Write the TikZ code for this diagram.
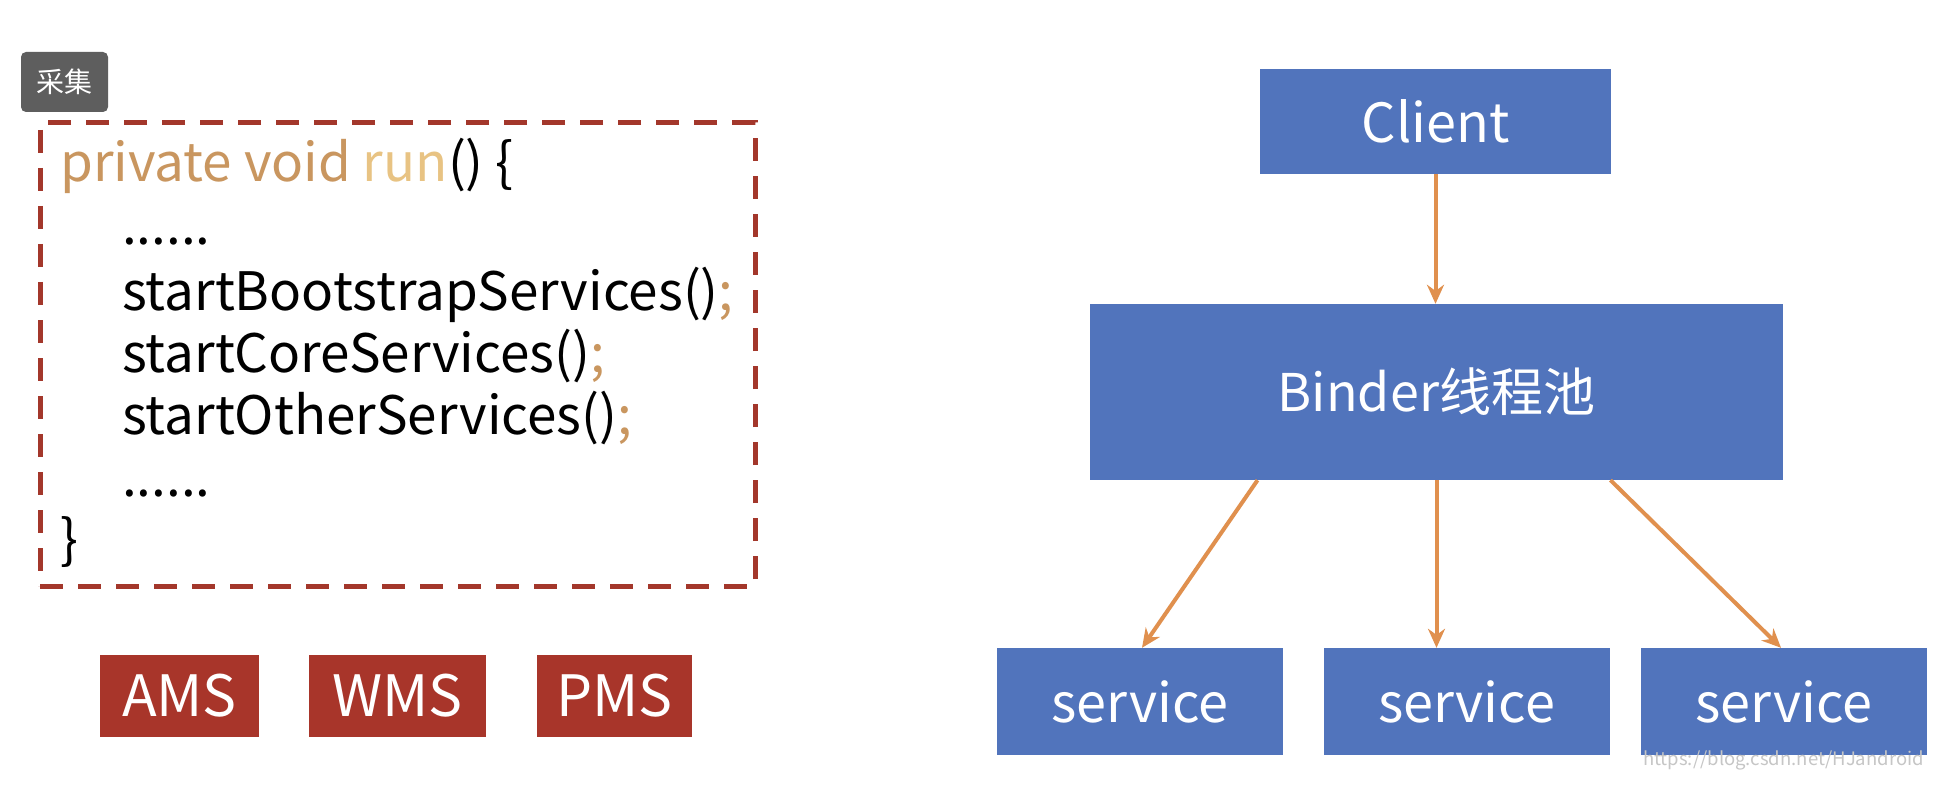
\documentclass[tikz,border=0pt]{standalone}
\usepackage{fontspec}
\setmainfont{Noto Sans CJK SC}
\usetikzlibrary{arrows.meta,positioning}
\definecolor{btngray}{HTML}{5E5E5E}
\definecolor{dashred}{HTML}{A3372B}
\definecolor{msred}{HTML}{A8352A}
\definecolor{kwtan}{HTML}{C9965F}
\definecolor{runtan}{HTML}{E8C383}
\definecolor{boxblue}{HTML}{5174BC}
\definecolor{arrorange}{HTML}{E0904E}
\tikzset{
  codeline/.style={anchor=base west,inner sep=0pt,font=\fontsize{53}{53}\selectfont},
  msbox/.style={fill=msred,text=white,minimum height=82pt,inner sep=0pt,font=\fontsize{57}{57}\selectfont},
  bluebox/.style={fill=boxblue,text=white,inner sep=0pt,font=\fontsize{54}{54}\selectfont},
  svcbox/.style={bluebox,minimum width=286pt,minimum height=107pt},
  callarrow/.style={-{Stealth[length=19pt,width=17pt]},line width=4pt,arrorange},
}
\begin{document}
\begin{tikzpicture}[x=1pt,y=-1pt]
  \useasboundingbox[fill=white] (0,0) rectangle (1946,786);
  % left: code snippet
  \node[fill=btngray,text=white,rounded corners=5pt,minimum width=87pt,minimum height=60pt,
        inner sep=0pt,font=\fontsize{28}{28}\selectfont] (btn) at (64.5,82) {采集};
  \node[draw=dashred,line width=5pt,dash pattern=on 23pt off 15pt,minimum width=715pt,
        minimum height=463pt,inner sep=0pt] (code) at (397.5,354.5) {};
  \node[codeline] (l1) at (60,182) {\textcolor{kwtan}{private void }\textcolor{runtan}{run}() \{};
  \node[codeline] (l2) at (122,245) {......};
  \node[codeline] (l3) at (122,310) {startBootstrapServices()\textcolor{kwtan}{;}};
  \node[codeline] (l4) at (122,372) {startCoreServices()\textcolor{kwtan}{;}};
  \node[codeline] (l5) at (122,434) {startOtherServices()\textcolor{kwtan}{;}};
  \node[codeline] (l6) at (122,496) {......};
  \node[codeline] (l7) at (60,558) {\}};
  \node[msbox,minimum width=159pt] (ams) at (179.5,696) {AMS};
  \node[msbox,minimum width=177pt] (wms) at (397.5,696) {WMS};
  \node[msbox,minimum width=155pt] (pms) at (614.5,696) {PMS};
  % right: binder thread pool
  \node[bluebox,minimum width=351pt,minimum height=105pt] (client) at (1435.5,121.5) {Client};
  \node[bluebox,minimum width=693pt,minimum height=176pt,font=\fontsize{52}{52}\selectfont] (pool) at (1436.5,392) {Binder线程池};
  \node[svcbox] (s1) at (1140,701.5) {service};
  \node[svcbox] (s2) at (1466.5,701.5) {service};
  \node[svcbox] (s3) at (1784,701.5) {service};
  \draw[callarrow] (client.south) -- (pool.north -| client.south);
  \draw[callarrow] ([xshift=-179pt]pool.south) -- ([xshift=2pt]s1.north);
  \draw[callarrow] (pool.south) -- (pool.south |- s2.north);
  \draw[callarrow] ([xshift=174pt]pool.south) -- ([xshift=-3pt]s3.north);
  \node[anchor=base east,inner sep=0pt,text=gray!45,font=\fontsize{18.5}{18.5}\selectfont] (mark) at (1924,765) {https://blog.csdn.net/HJandroid};
\end{tikzpicture}
\end{document}
